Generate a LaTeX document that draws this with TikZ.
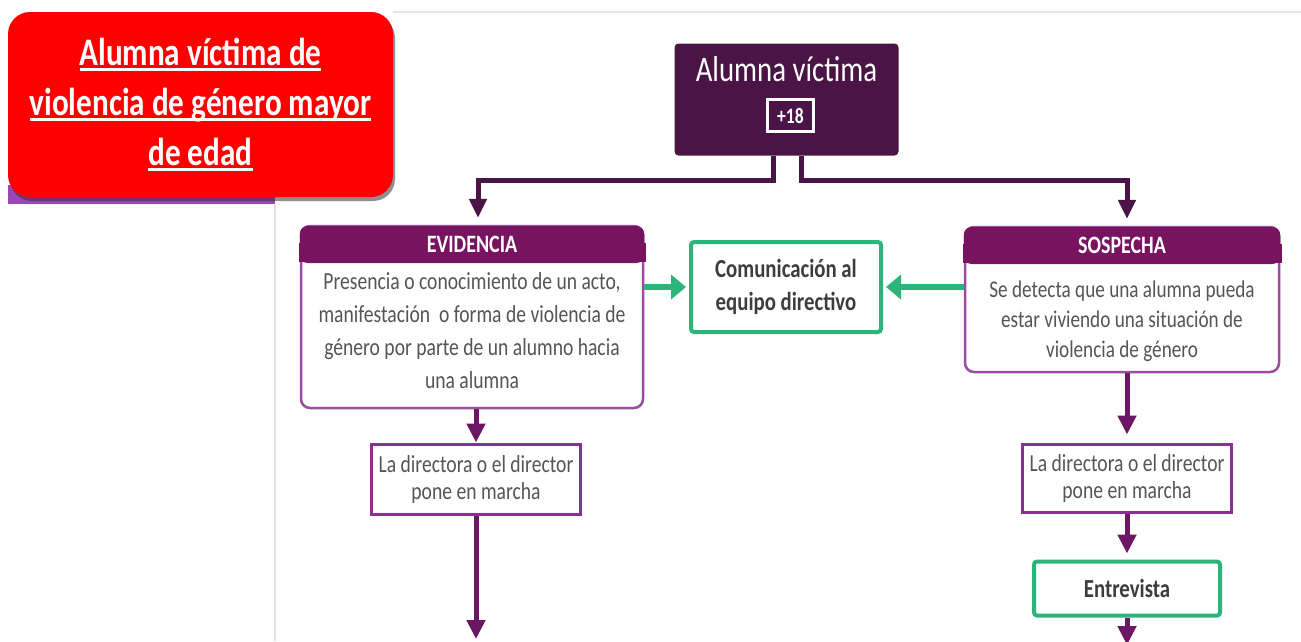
\documentclass[tikz,border=0pt]{standalone}
\usepackage{fontspec}
\setmainfont[FakeStretch=0.8]{Carlito}
\usetikzlibrary{arrows.meta,shadows}
\definecolor{hdr}{HTML}{77135F}
\definecolor{topc}{HTML}{4A1446}
\definecolor{bord}{HTML}{9A4C9F}
\definecolor{dirb}{HTML}{8B2F93}
\definecolor{arr}{HTML}{6B1766}
\definecolor{grn}{HTML}{2DB47A}
\definecolor{txt}{HTML}{555555}
\definecolor{dtxt}{HTML}{3C3C3C}
\definecolor{redc}{HTML}{FF0000}
\definecolor{strip}{HTML}{9C45B6}
\definecolor{vline}{HTML}{E6DCEA}
\definecolor{hline}{HTML}{F4DDF0}
\newcommand{\myul}[1]{\setbox0=\hbox{#1}\rlap{\rule[-5pt]{\wd0}{2.5pt}}\box0}
\begin{document}
\begin{tikzpicture}[x=1pt,y=-1pt,
  redbox/.style={fill=redc, rounded corners=22pt, minimum width=385pt, minimum height=185pt, inner sep=0pt,
     text=white, align=center, font=\bfseries\fontsize{39}{50}\selectfont,
     drop shadow={shadow xshift=2pt, shadow yshift=-4pt, opacity=.55, fill=black!80}},
  topbox/.style={fill=topc, rounded corners=4pt, minimum width=224pt, minimum height=112pt, inner sep=0pt},
  plusbox/.style={draw=white, line width=2.5pt, minimum width=46pt, minimum height=32pt, inner sep=0pt,
     text=white, font=\bfseries\fontsize{22}{24}\selectfont},
  bodybox/.style={draw=bord, line width=2.5pt, rounded corners=9pt, fill=white, inner sep=0pt},
  hdrbox/.style={fill=hdr, rounded corners=8pt, minimum height=37pt, inner sep=0pt, text=white,
     font=\bfseries\fontsize{25}{28}\selectfont},
  bodytext/.style={text=txt, align=center, inner sep=0pt},
  dirbox/.style={draw=dirb, line width=3pt, minimum width=209pt, inner sep=0pt, text=txt, align=center,
     font=\fontsize{24.5}{27}\selectfont},
  grnbox/.style={draw=grn, line width=4pt, rounded corners=3pt, fill=white, inner sep=0pt, text=dtxt,
     align=center, font=\bfseries\fontsize{26}{33}\selectfont},
  tarr/.style={draw=topc, line width=5pt, -{Triangle[width=17pt,length=19pt]}},
  parr/.style={draw=arr, line width=5pt, -{Triangle[width=18pt,length=19pt]}},
  garr/.style={draw=grn, line width=6pt, -{Triangle[width=24pt,length=15pt]}}]
\useasboundingbox (0,0) rectangle (1301,641);
\fill[white] (0,0) rectangle (1301,641);
% thin frame lines
\draw[line width=1.5pt, hline] (393,12) -- (1301,12);
\draw[line width=1.2pt, vline] (275,204) -- (275,641);
\fill[strip] (8,185) rectangle (275,204);
% title
\node[redbox] (title) at (200.5,104.5) {\myul{Alumna víctima de}\\\myul{violencia de género mayor}\\\myul{de edad}};
% top box
\node[topbox] (top) at (786.5,99.5) {};
\node[anchor=base, text=white, inner sep=0pt, font=\fontsize{36}{40}\selectfont] (toplbl) at (786.5,81) {Alumna víctima};
\node[plusbox] (plus) at (790.5,115.5) {+18};
% evidencia
\node[bodybox, minimum width=342pt, minimum height=182pt] (evb) at (472,317) {};
\fill[hdr] ([shift={(-1.25,18)}]evb.north west) rectangle ([shift={(1.25,37)}]evb.north east);
\node[hdrbox, minimum width=344.5pt] (evh) at (472,244.5) {EVIDENCIA};
\node[bodytext, font=\fontsize{24.5}{33}\selectfont] (evt) at (472,331)
  {Presencia o conocimiento de un acto,\\manifestación\ \ o forma de violencia de\\género por parte de un alumno hacia\\una alumna};
% sospecha
\node[bodybox, minimum width=314pt, minimum height=145pt] (spb) at (1122,299.5) {};
\fill[hdr] ([shift={(-1.25,18)}]spb.north west) rectangle ([shift={(1.25,37)}]spb.north east);
\node[hdrbox, minimum width=316.5pt] (sph) at (1122,245.5) {SOSPECHA};
\node[bodytext, font=\fontsize{24}{30}\selectfont] (spt) at (1122,321)
  {Se detecta que una alumna pueda\\estar viviendo una situación de\\violencia de género};
% comunicacion
\node[grnbox, minimum width=190pt, minimum height=90pt] (comm) at (786,287) {Comunicación al\\equipo directivo};
% directors
\node[dirbox, minimum height=70pt] (ldir) at (476,479) {La directora o el director\\pone en marcha};
\node[dirbox, minimum height=68pt] (rdir) at (1127,478) {La directora o el director\\pone en marcha};
\node[grnbox, minimum width=186pt, minimum height=54pt] (entr) at (1127,588.5) {Entrevista};
\coordinate (lend) at (476,639);
\coordinate (rend) at (1127,645);
% connectors
\draw[tarr] ([xshift=-13.5pt]top.south) -- ++(0,25) -| ([shift={(6,-8)}]evh.north);
\draw[tarr] ([xshift=14.5pt]top.south) -- ++(0,25) -| ([shift={(5,-8)}]sph.north);
\draw[garr] (evb.east |- comm.west) -- ([xshift=-3pt]comm.west);
\draw[garr] (spb.west |- comm.east) -- ([xshift=3pt]comm.east);
\draw[parr] (ldir.north |- evb.south) -- (ldir.north);
\draw[parr] (ldir.south) -- (lend);
\draw[parr] (rdir.north |- spb.south) -- ([yshift=8pt]rdir.north);
\draw[parr] (rdir.south) -- ([yshift=6pt]entr.north);
\draw[parr] (entr.south) -- (rend);
\end{tikzpicture}
\end{document}
